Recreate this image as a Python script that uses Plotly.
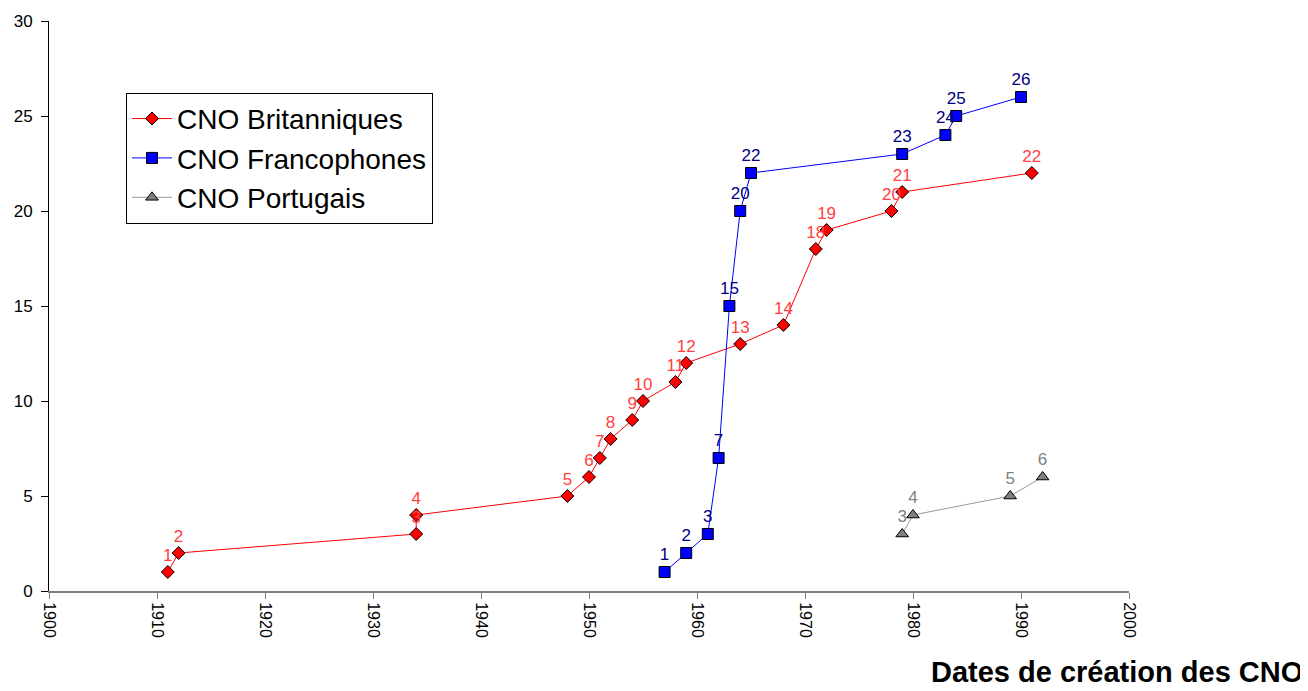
import plotly.graph_objects as go

# CNO Britanniques
brit_annees = [1911, 1912, 1934, 1934, 1948, 1950, 1951, 1952, 1954, 1955,
               1958, 1959, 1964, 1968, 1971, 1972, 1978, 1979, 1991]
brit_nombre = [1, 2, 3, 4, 5, 6, 7, 8, 9, 10, 11, 12, 13, 14, 18, 19, 20, 21, 22]

# CNO Francophones
franco_annees = [1957, 1959, 1961, 1962, 1963, 1964, 1965, 1979, 1983, 1984, 1990]
franco_nombre = [1, 2, 3, 7, 15, 20, 22, 23, 24, 25, 26]

# CNO Portugais
port_annees = [1979, 1980, 1989, 1992]
port_nombre = [3, 4, 5, 6]

x_ticks = list(range(1900, 2001, 10))

fig = go.Figure()

fig.add_trace(go.Scatter(
    x=brit_annees, y=brit_nombre, name="CNO Britanniques",
    mode="lines+markers+text", text=[str(v) for v in brit_nombre],
    textposition="top center", textfont=dict(color="#FF4040", size=17, family="Arial"),
    line=dict(color="#FF0000", width=1),
    marker=dict(symbol="diamond", size=10, color="#FF0000", line=dict(color="black", width=1)),
))
fig.add_trace(go.Scatter(
    x=franco_annees, y=franco_nombre, name="CNO Francophones",
    mode="lines+markers+text", text=[str(v) for v in franco_nombre],
    textposition="top center", textfont=dict(color="#000080", size=17, family="Arial"),
    line=dict(color="#0000FF", width=1),
    marker=dict(symbol="square", size=11, color="#0000FF", line=dict(color="black", width=1)),
))
fig.add_trace(go.Scatter(
    x=port_annees, y=port_nombre, name="CNO Portugais",
    mode="lines+markers+text", text=[str(v) for v in port_nombre],
    textposition="top center", textfont=dict(color="#808080", size=17, family="Arial"),
    line=dict(color="#999999", width=1),
    marker=dict(symbol="triangle-up", size=11, color="#808080", line=dict(color="black", width=1)),
))

# the page adds an 8px body margin, so the figure is shifted by 8px
fig.update_layout(
    width=1300, height=683,
    margin=dict(l=41, r=179, t=13, b=100),
    paper_bgcolor="white", plot_bgcolor="white",
    font=dict(family="Arial", color="black"),
    legend=dict(
        x=0.0713, y=0.874, xanchor="left", yanchor="top",
        bordercolor="black", borderwidth=1, bgcolor="white",
        font=dict(size=28, family="Arial"),
        itemwidth=40, tracegroupgap=0,
    ),
    annotations=[dict(
        text="<b>Dates de création des CNO</b>", xref="paper", yref="paper",
        x=1.163, y=-0.142, xanchor="right", yanchor="middle", showarrow=False,
        font=dict(size=29, family="Arial", color="black"),
    )],
)

fig.update_xaxes(
    range=[1900, 2000], tickvals=x_ticks, ticktext=[str(t) for t in x_ticks],
    tickangle=90, tickfont=dict(size=16), showgrid=False, zeroline=False,
    showline=True, linecolor="#808080", linewidth=2, automargin=False,
    ticks="outside", ticklen=6, tickcolor="#808080",
)
fig.update_yaxes(
    range=[0, 30], dtick=5, tickfont=dict(size=17), showgrid=False, zeroline=False,
    showline=True, linecolor="black", linewidth=1, automargin=False,
    ticks="outside", ticklen=7, tickcolor="black", ticklabelstandoff=5,
)

fig.write_html("out.html")
